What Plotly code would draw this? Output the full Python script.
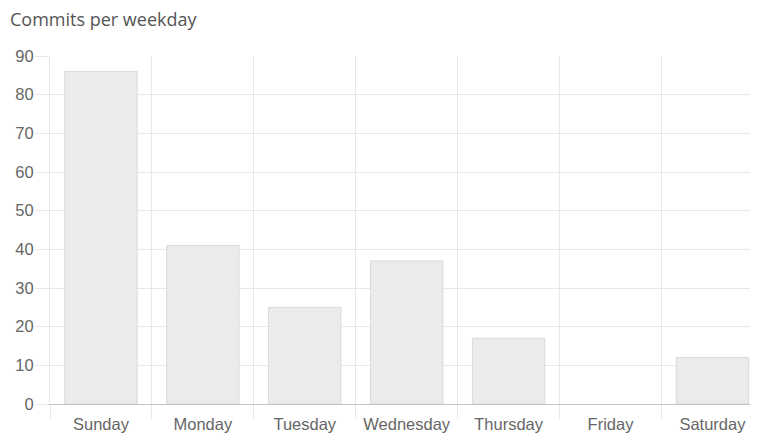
import plotly.graph_objects as go

days = ["Sunday", "Monday", "Tuesday", "Wednesday", "Thursday", "Friday", "Saturday"]
commits = [86, 41, 25, 37, 17, 0, 12]
y_ticks = [0, 10, 20, 30, 40, 50, 60, 70, 80, 90]

grid = "#e8e8e8"
# the page body has an 8px default margin, so the figure is offset by 8px
fig = go.Figure(go.Bar(
    x=days, y=commits, width=0.71,
    marker=dict(color="#ebebeb",
                line=dict(color="#dadada", width=[1 if v > 0 else 0 for v in commits])),
))

fig.update_layout(
    width=750, height=433,
    margin=dict(l=42, r=0, t=48, b=37),
    paper_bgcolor="white", plot_bgcolor="white",
    showlegend=False,
    font=dict(family="Liberation Sans, Arial, sans-serif", size=16.5, color="#666"),
    title=dict(text="Commits per weekday", x=2/750, xanchor="left", y=1-12/433, yanchor="middle",
               font=dict(family="Open Sans, sans-serif", size=18, color="#555")),
)
fig.update_xaxes(
    type="category", range=[-0.5, 6.447], tickson="boundaries",
    showgrid=True, gridcolor=grid, gridwidth=1,
    ticks="outside", ticklen=14, tickcolor=grid, tickwidth=1,
    showline=True, linecolor="#c4c4c4", linewidth=1,
    tickfont=dict(size=16.5, color="#666"), ticklabelstandoff=5,
)
fig.update_yaxes(
    range=[0, 90], tickvals=y_ticks,
    showgrid=True, gridcolor=grid, gridwidth=1,
    ticks="outside", ticklen=14, tickcolor=grid, tickwidth=1,
    showline=True, linecolor=grid, linewidth=1,
    zeroline=False,
    tickfont=dict(size=16.5, color="#666"), ticklabelstandoff=-2,
)
fig.write_html("out.html")
